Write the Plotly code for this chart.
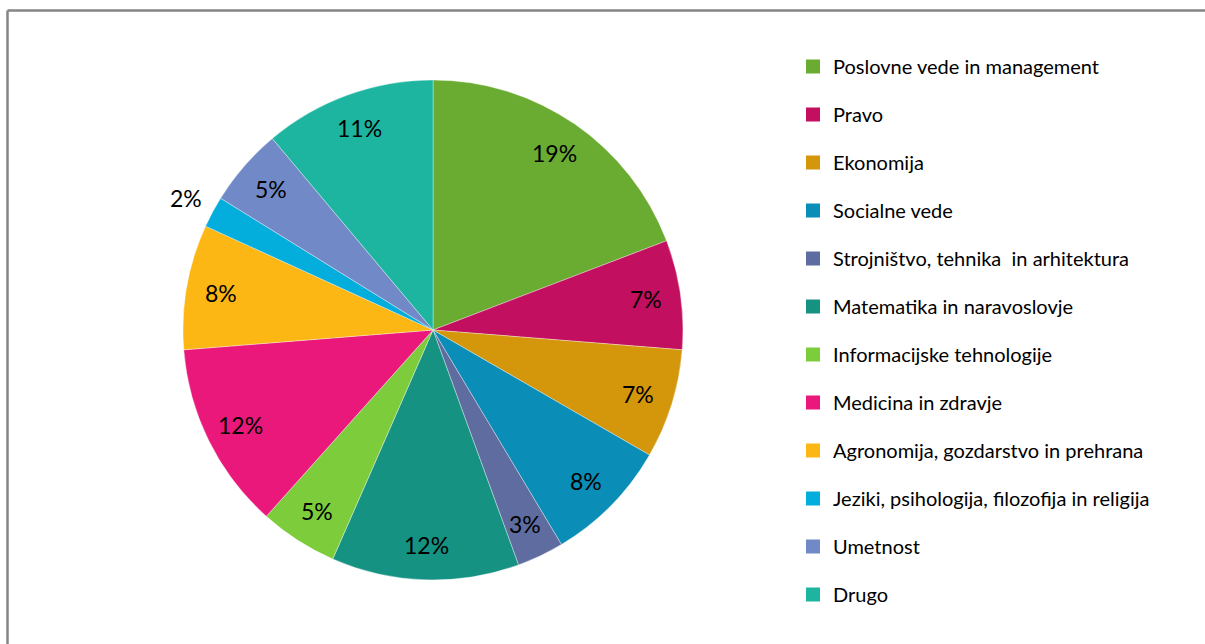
import math
import plotly.graph_objects as go

# Share of students by field of study (percent)
categories = [
    "Poslovne vede in management",
    "Pravo",
    "Ekonomija",
    "Socialne vede",
    "Strojništvo, tehnika  in arhitektura",
    "Matematika in naravoslovje",
    "Informacijske tehnologije",
    "Medicina in zdravje",
    "Agronomija, gozdarstvo in prehrana",
    "Jeziki, psihologija, filozofija in religija",
    "Umetnost",
    "Drugo",
]
shares = [19, 7, 7, 8, 3, 12, 5, 12, 8, 2, 5, 11]
colors = [
    "#6aab32", "#c20f5f", "#d4960b", "#0a8db7", "#5e6c9f", "#159282",
    "#7dcc3b", "#e9187a", "#fdb714", "#03addc", "#7289c8", "#1db5a0",
]
outside = {"Jeziki, psihologija, filozofija in religija"}

W, H = 1205, 644
dom_x = [183 / W, 683 / W]
dom_y = [64 / H, 564 / H]
fig = go.Figure()

fig.add_trace(go.Pie(
    labels=categories,
    values=shares,
    sort=False,
    direction="clockwise",
    rotation=0,
    marker=dict(colors=colors, line=dict(color="rgba(255,255,255,0.6)", width=0.6)),
    textinfo="none",
    hoverinfo="label+value",
    showlegend=False,
    domain=dict(x=dom_x, y=dom_y),
))

# Percentage labels placed near the rim of each slice along its bisector
cx = (dom_x[0] + dom_x[1]) / 2
cy = (dom_y[0] + dom_y[1]) / 2
rx = (dom_x[1] - dom_x[0]) / 2
ry = (dom_y[1] - dom_y[0]) / 2
total = sum(shares)
annotations = []
acc = 0
for name, v in zip(categories, shares):
    mid = (acc + v / 2) / total * 2 * math.pi
    acc += v
    k = 1.12 if name in outside else 0.86
    annotations.append(dict(
        x=cx + k * rx * math.sin(mid), y=cy + k * ry * math.cos(mid),
        xref="paper", yref="paper", xanchor="center", yanchor="middle",
        text=f"{v}%", showarrow=False,
        font=dict(family="Lato, sans-serif", size=23, color="#000000"),
    ))

# Legend entries, one group each so they can be spaced apart
for name, col in zip(categories, colors):
    fig.add_trace(go.Scatter(
        x=[None], y=[None], mode="markers", name=name, legendgroup=name,
        marker=dict(symbol="square", size=14, color=col),
        hoverinfo="skip",
    ))

fig.update_layout(
    width=W, height=H,
    margin=dict(l=0, r=0, t=0, b=0),
    paper_bgcolor="white",
    plot_bgcolor="white",
    xaxis=dict(visible=False),
    yaxis=dict(visible=False),
    annotations=annotations,
    legend=dict(
        x=793 / W, y=1 - 47 / H, xanchor="left", yanchor="top",
        font=dict(family="Lato, sans-serif", size=20, color="#000000"),
        tracegroupgap=19, itemwidth=30, bgcolor="rgba(0,0,0,0)",
    ),
    shapes=[
        dict(type="line", xref="paper", yref="paper", x0=7.5 / W, x1=1.0,
             y0=1 - 10.5 / H, y1=1 - 10.5 / H, line=dict(color="#858585", width=2.5)),
        dict(type="line", xref="paper", yref="paper", x0=7.5 / W, x1=7.5 / W,
             y0=0, y1=1 - 10.5 / H, line=dict(color="#858585", width=2.5)),
    ],
)

fig.write_html("out.html")
